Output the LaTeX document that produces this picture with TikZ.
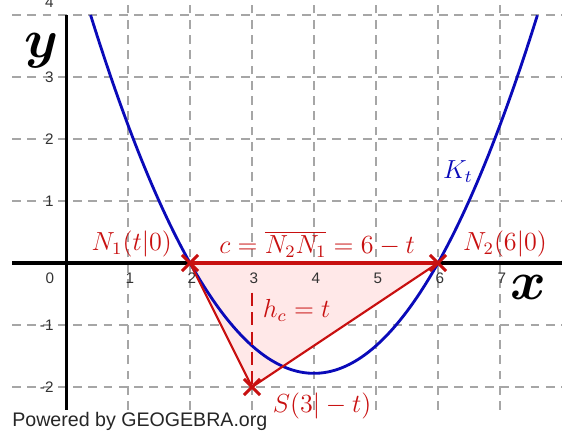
\documentclass[tikz,border=0pt]{standalone}
\usepackage{fontspec}
\setsansfont{Liberation Sans}
\usepackage{amsmath}
\usetikzlibrary{calc}
\begin{document}
\begin{tikzpicture}[x=1cm,y=1cm,
  gridline/.style={gray!70,line width=0.6pt,dash pattern=on 4pt off 3pt},
  axisline/.style={black,line width=1.4pt},
  ticklbl/.style={font=\sffamily\scriptsize,text=black!80,inner sep=1pt},
  redlbl/.style={text=rd,font=\large,inner sep=1pt},
  crossmark/.style={rd,line width=1.4pt},
  ]
\definecolor{rd}{RGB}{200,16,16}
\definecolor{bl}{RGB}{10,10,185}
\definecolor{pinkfill}{RGB}{255,232,232}
\useasboundingbox (-1.065,-2.694) rectangle (8.113,4.242);
\clip (-1.065,-2.694) rectangle (8.113,4.242);
% grid
\foreach \i in {1,...,7}
  \draw[gridline] (\i,-2.37) -- (\i,4.3);
\foreach \j in {-2,-1,1,2,3,4}
  \draw[gridline] (-0.87,\j) -- (8.0,\j);
% triangle fill
\coordinate (N1) at (2,0);
\coordinate (N2) at (6,0);
\coordinate (S) at (3,-2);
\coordinate (H) at (3,-0.48);
\fill[pinkfill] (N1) -- (N2) -- (S) -- cycle;
% axes
\draw[axisline] (-0.87,0) -- (8.0,0);
\draw[axisline] (0,-2.37) -- (0,4.0);
% tick labels
\node[ticklbl] (t0) at (-0.26,-0.24) {0};
\foreach \i in {1,...,7}
  \node[ticklbl] (tx\i) at (\i+0.03,-0.24) {\i};
\foreach \j in {-2,-1,1,2,3}
  \node[ticklbl,anchor=east] (ty\j) at (-0.16,\j) {\j};
\node[ticklbl,anchor=east] (ty4) at (-0.16,4.2) {4};
% axis names
\node[inner sep=0pt] (ylbl) at (-0.4,3.42) {\Huge$\boldsymbol{y}$};
\node[inner sep=0pt] (xlbl) at (7.45,-0.4) {\Huge$\boldsymbol{x}$};
% parabola
\draw[bl,line width=1.3pt,domain=0.396:7.604,samples=120,smooth]
  plot (\x,{0.445*(\x-2)*(\x-6)});
\node[text=bl,font=\large] (K) at (6.32,1.47) {$K_t$};
% triangle
\draw[rd,line width=1pt] (N1) -- (S) -- (N2);
\draw[rd,line width=2pt] (N1) -- (N2);
\draw[rd,line width=1pt,dash pattern=on 6pt off 3pt] (H) -- (S);
% crosses
\foreach \p in {N1,N2,S}{
  \draw[crossmark] ($(\p)+(-0.13,-0.13)$) -- ($(\p)+(0.13,0.13)$);
  \draw[crossmark] ($(\p)+(-0.13,0.13)$) -- ($(\p)+(0.13,-0.13)$);
}
% labels
\node[redlbl] (lN1) at (1.06,0.3) {$N_1(t|0)$};
\node[redlbl] (lN2) at (7.08,0.3) {$N_2(6|0)$};
\node[redlbl] (lc) at (4.05,0.3) {$c=\overline{N_2N_1}=6-t$};
\node[redlbl] (lh) at (3.72,-0.76) {$h_c=t$};
\node[redlbl] (lS) at (4.13,-2.3) {$S(3|-t)$};
\node[font=\sffamily\small,text=black!85] (pw) at (1.19,-2.56) {Powered by GEOGEBRA.org};
\end{tikzpicture}
\end{document}
